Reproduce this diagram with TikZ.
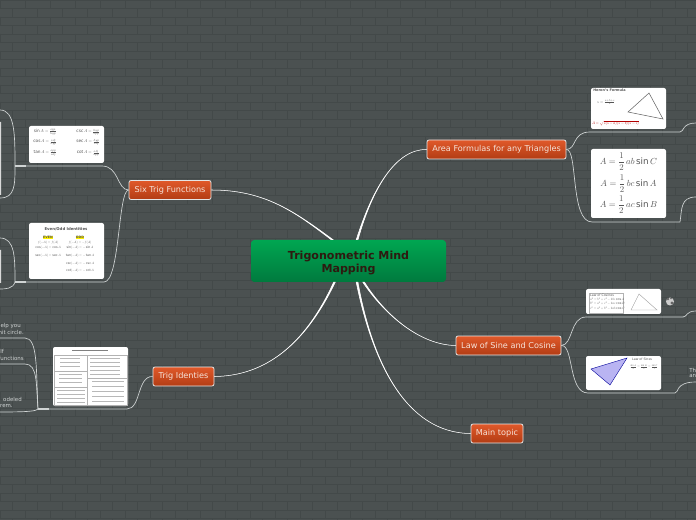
\documentclass[tikz,border=0pt]{standalone}
\usepackage{amsmath}
\usepackage{fontspec}
\setmainfont{DejaVu Sans}
\definecolor{wallbase}{HTML}{4B5151}
\definecolor{wallline}{HTML}{434949}
\definecolor{twiglight}{HTML}{D0D4D4}
\definecolor{roottop}{HTML}{00A651}
\definecolor{rootbottom}{HTML}{007A3E}
\definecolor{roottext}{HTML}{2E1A10}
\definecolor{topictop}{HTML}{E0592A}
\definecolor{topicbottom}{HTML}{B23C14}
\definecolor{topictext}{HTML}{F6E2D8}
\definecolor{sheetink}{HTML}{555555}
\definecolor{sheetviolet}{HTML}{B9B4F2}
\tikzstyle{rootbox}=
[
	rectangle
	, rounded corners=2.5pt
	, minimum height=31.5pt
	, align=center
	, top color=roottop
	, bottom color=rootbottom
	, text=roottext
	, font=\fontsize{8.3}{10}\selectfont\bfseries
]
\tikzstyle{topicbox}=
[
	rectangle
	, rounded corners=1.5pt
	, minimum height=14.25pt
	, inner sep=0pt
	, draw=white!90!black
	, line width=0.6pt
	, top color=topictop
	, bottom color=topicbottom
	, text=topictext
	, font=\fontsize{6.1}{7}\selectfont
]
\tikzstyle{picbox}=
[
	rectangle
	, rounded corners=1.5pt
	, inner sep=0pt
	, minimum width=56.25pt
	, fill=white
]
\tikzstyle{stem} = [fill=white,draw=white,line width=0.4pt]
\tikzstyle{twig} = [twiglight,line width=0.5pt]
\tikzstyle{note} = [text=twiglight,inner sep=0pt,font=\fontsize{4.1}{5}\selectfont]
\tikzstyle{sheettext} = [text=sheetink,inner sep=0pt,scale=0.32]
\tikzstyle{smalltext} = [text=sheetink,inner sep=0pt,scale=0.24]
\tikzstyle{areatext} = [text=sheetink,inner sep=0pt,scale=0.66]
\tikzstyle{sheetline} = [black!28,line width=0.45pt]
\tikzstyle{sheetframe} = [black!30,line width=0.25pt]
\begin{document}
\begin{tikzpicture}[x=0.75pt,y=-0.75pt]
\useasboundingbox (0,0) rectangle (696,520);

% brick wall
\fill[wallbase] (0,0) rectangle (696,520);
\foreach \row in {0,...,61}{
	\draw[wallline,line width=0.5pt] (0,8.5*\row) -- (696,8.5*\row);
	\pgfmathsetmacro{\shift}{mod(\row,2)*12.5}
	\foreach \col in {-1,...,28}
		\draw[wallline,line width=0.5pt] (\col*25+\shift,8.5*\row) -- (\col*25+\shift,8.5*\row+8.5);
}

% topics
\node(root)[rootbox,minimum width=146.25pt] at (348.5,261){\rule{0pt}{9pt}Trigonometric Mind\\Mapping};
\node(six)[topicbox,minimum width=61.5pt] at (170,190){Six Trig Functions};
\node(ident)[topicbox,minimum width=45.75pt] at (183.5,376.5){Trig Identies};
\node(area)[topicbox,minimum width=104.25pt] at (496.5,149.5){Area Formulas for any Triangles};
\node(law)[topicbox,minimum width=78.75pt] at (508.5,345.5){Law of Sine and Cosine};
\node(maintopic)[topicbox,minimum width=39pt] at (497,433.5){Main topic};

% pictures
\node(picsix)[picbox,minimum height=27.75pt] at (66.5,144.5){};
\node(piceven)[picbox,minimum height=42pt] at (66.5,251){};
\node(pictrig)[picbox,minimum height=44.25pt] at (90.5,376.5){};
\node(pichero)[picbox,minimum height=30.75pt] at (628.5,108.5){};
\node(picarea)[picbox,minimum height=51.75pt] at (628.5,183.5){};
\node(piccos)[picbox,minimum height=18.75pt] at (623.5,301.5){};
\node(picsin)[picbox,minimum height=25.5pt] at (623.5,373){};
\node(globe)[circle,fill=white!80!black,minimum size=6pt,inner sep=0pt] at (670,301.5){};
\fill[black!60] (668,299) circle (1.4) (672,303) circle (1.6) (671,298.5) circle (0.8);

% pictures running off the left edge
\fill[white!85!black] (0,122) rectangle (1,195) (0,250) rectangle (1,283);

% stems from the centre, thin at the far end
\fill[stem] (root.126.5) .. controls (295,212) and (265,190) .. (six.east) .. controls (265,190) and (295,212) .. (root.129.5) -- cycle;
\fill[stem] (root.235.5) .. controls (305,345) and (265,376) .. (ident.east) .. controls (265,376) and (305,345) .. (root.238.5) -- cycle;
\fill[stem] (root.66) .. controls (372,190) and (395,149) .. (area.west) .. controls (395,149) and (372,190) .. (root.70) -- cycle;
\fill[stem] (root.304.5) .. controls (385,315) and (420,345) .. (law.west) .. controls (420,345) and (385,315) .. (root.307.5) -- cycle;
\fill[stem] (root.290) .. controls (372,360) and (405,433) .. (maintopic.west) .. controls (405,433) and (372,360) .. (root.294) -- cycle;

% branches, left
\coordinate(sixup) at (15,166);
\coordinate(sixdown) at (15,282);
\coordinate(identfork) at (38,409);
\draw[twig] (six.west) .. controls (117,190) and (119,166) .. (102,166) -- (sixup);
\draw[twig] (six.west) .. controls (118,190) and (120,282) .. (104,282) -- (sixdown);
\draw[twig] (sixup) .. controls (15,135) and (15,110) .. (0,110);
\draw[twig] (sixup) .. controls (15,185) and (15,198) .. (0,198);
\draw[twig] (sixdown) .. controls (15,258) and (15,238) .. (0,238);
\draw[twig] (sixdown) .. controls (13,289) and (5,289) .. (0,289);
\draw[twig] (ident.west) .. controls (137,376) and (141,409) .. (127,409) -- (identfork);
\draw[twig] (identfork) .. controls (36,370) and (38,338) .. (25,338) -- (0,338);
\draw[twig] (identfork) .. controls (36,385) and (38,364) .. (25,364) -- (0,364);
\draw[twig] (identfork) .. controls (36,411) and (30,412) .. (0,412);
\draw[twig,line width=0.8pt] (sixup) -- ++(11,0);
\draw[twig,line width=0.8pt] (sixdown) -- ++(11,0);
\draw[twig,line width=0.8pt] (identfork) -- ++(11,0);

% branches, right
\coordinate(areaup) at (680,132);
\coordinate(areadown) at (680,222);
\coordinate(lawup) at (683,317);
\coordinate(lawdown) at (675,393);
\draw[twig] (area.east) .. controls (577,149) and (572,132) .. (590,132) -- (areaup);
\draw[twig] (area.east) .. controls (578,149) and (570,222) .. (592,222) -- (areadown);
\draw[twig] (areaup) .. controls (684,132) and (682,123) .. (696,123);
\draw[twig] (areadown) .. controls (682,210) and (680,197) .. (696,197);
\draw[twig] (law.east) .. controls (573,345) and (570,317) .. (586,317) -- (lawup);
\draw[twig] (law.east) .. controls (574,345) and (568,393) .. (588,393) -- (lawdown);
\draw[twig] (lawup) .. controls (687,317) and (686,311) .. (696,311);
\draw[twig] (lawdown) .. controls (679,393) and (675,382) .. (696,382);

% notes cut off by the page edge
\node(noteA)[note,anchor=east] at (21,326){elp you};
\node(noteB)[note,anchor=east] at (24,332.5){nit circle.};
\node(noteC)[note,anchor=east] at (4,351.5){lf};
\node(noteD)[note,anchor=east] at (24,358){functions};
\node(noteE)[note,anchor=east] at (22,399){odeled};
\node(noteF)[note,anchor=east] at (13,406){rem.};
\node(noteG)[note,anchor=west] at (689,370){Th};
\node(noteH)[note,anchor=west] at (689,376.5){an};

% six functions sheet
\node(sinA)[sheettext] at (45,132){$\sin A=\tfrac{opp}{hyp}$};
\node(cosA)[sheettext] at (45,142){$\cos A=\tfrac{adj}{hyp}$};
\node(tanA)[sheettext] at (45,153){$\tan A=\tfrac{opp}{adj}$};
\node(cscA)[sheettext] at (88,132){$\csc A=\tfrac{hyp}{opp}$};
\node(secA)[sheettext] at (88,142){$\sec A=\tfrac{hyp}{adj}$};
\node(cotA)[sheettext] at (88,153){$\cot A=\tfrac{adj}{opp}$};

% even and odd sheet
\node(evtitle)[text=sheetink,inner sep=0pt,font=\fontsize{2.9}{3.5}\selectfont\bfseries] at (66,229.5){Even/Odd Identities};
\node(evenhead)[text=sheetink,inner sep=0.3pt,fill=yellow,font=\fontsize{2.4}{3}\selectfont\bfseries] at (48,237.5){EVEN};
\node(oddhead)[text=sheetink,inner sep=0.3pt,fill=yellow,font=\fontsize{2.4}{3}\selectfont\bfseries] at (80,237.5){ODD};
\node(evenA)[smalltext] at (48,242.5){$f(-A)=f(A)$};
\node(oddA)[smalltext] at (80,242.5){$f(-A)=-f(A)$};
\node(evenB)[smalltext] at (48,248){$\cos(-A)=\cos A$};
\node(evenC)[smalltext] at (48,256){$\sec(-A)=\sec A$};
\node(oddB)[smalltext] at (80,248){$\sin(-A)=-\sin A$};
\node(oddC)[smalltext] at (80,256){$\tan(-A)=-\tan A$};
\node(oddD)[smalltext] at (80,264){$\csc(-A)=-\csc A$};
\node(oddE)[smalltext] at (80,271){$\cot(-A)=-\cot A$};

% identities sheet, too small to read
\draw[sheetframe] (54,355) rectangle (87,405) (87,355) rectangle (127,405) (54,371) -- (87,371) (54,387) -- (87,387) (87,378) -- (127,378);
\draw[black!50,line width=0.5pt] (72,350) -- (108,350);
\foreach \y in {358,362,...,368} \draw[sheetline] (60,\y) -- (80,\y);
\foreach \y in {374,378,...,384} \draw[sheetline] (59,\y) -- (82,\y);
\foreach \y in {390,394,...,402} \draw[sheetline] (57,\y) -- (85,\y);
\foreach \y in {358,362,...,374} \draw[sheetline] (90,\y) -- (120,\y);
\foreach \y in {381,386,...,402} \draw[sheetline] (92,\y) -- (124,\y);

% Heron sheet
\node(herontitle)[text=sheetink,inner sep=0pt,anchor=west,font=\fontsize{2.6}{3}\selectfont\bfseries] at (593,90.5){Heron's Formula};
\node(heronS)[sheettext,scale=0.95] at (606,102){$s=\frac{a+b+c}{2}$};
\node(heronA)[sheettext,scale=0.89,text=red!70!black,anchor=west] at (592,123.5){$A=\sqrt{s(s-a)(s-b)(s-c)}$};
\draw[black!60,line width=0.4pt] (628,112) -- (649,93) -- (663,119) -- cycle;

% area sheet
\node(formB)[areatext] at (628.5,162){$A=\dfrac{1}{2}\,ab\sin C$};
\node(formA)[areatext] at (628.5,184){$A=\dfrac{1}{2}\,bc\sin A$};
\node(formC)[areatext] at (628.5,205){$A=\dfrac{1}{2}\,ac\sin B$};

% law sheets
\draw[sheetframe] (589,293) rectangle (623,313);
\node(costitle)[smalltext,anchor=west] at (590,295){Law of Cosines};
\node(cosa)[smalltext,anchor=west] at (590,299){$a^2=b^2+c^2-2bc\cos A$};
\node(cosb)[smalltext,anchor=west] at (590,303.5){$b^2=a^2+c^2-2ac\cos B$};
\node(cosc)[smalltext,anchor=west] at (590,308){$c^2=a^2+b^2-2ab\cos C$};
\draw[black!40,line width=0.3pt] (631,310) -- (639,294) -- (657,310) -- cycle;
\draw[blue!60!black,line width=0.3pt,fill=sheetviolet] (591,369) -- (627,358) -- (610,385) -- cycle;
\node(sintitle)[smalltext,anchor=west] at (632,359){Law of Sines};
\node(sinform)[smalltext] at (644,367){$\frac{\sin A}{a}=\frac{\sin B}{b}=\frac{\sin C}{c}$};
\end{tikzpicture}
\end{document}
